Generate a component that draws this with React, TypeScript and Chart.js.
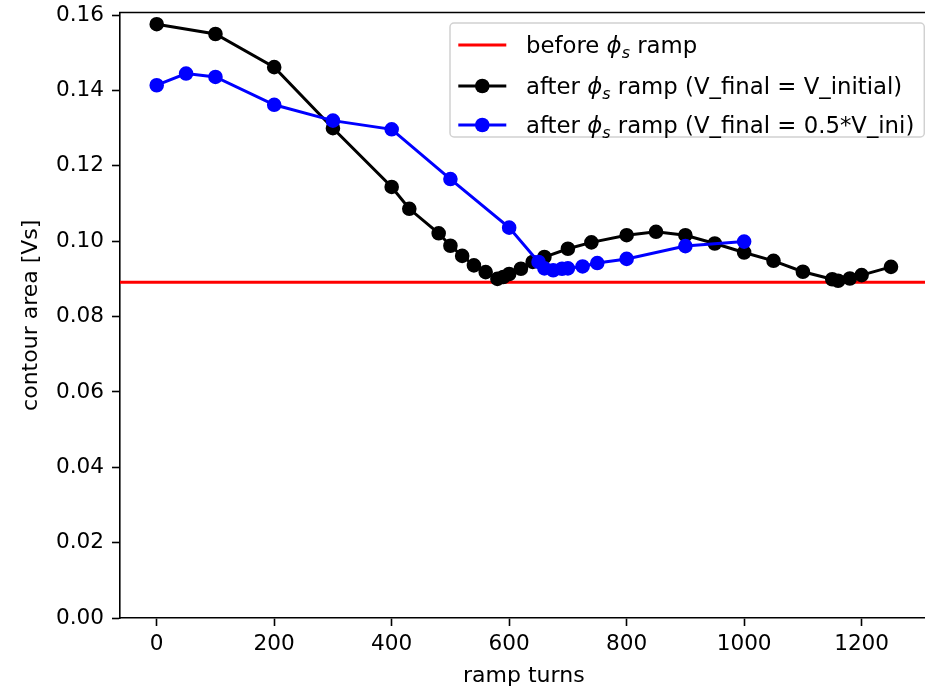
import React, { useEffect, useRef } from "react";
import { Chart, registerables } from "chart.js";

Chart.register(...registerables);

// ---- data ----
const blackX = [0, 100, 200, 300, 400, 430, 480, 500, 520, 540, 560, 580, 590, 600, 620, 640, 660, 700, 740, 800, 850, 900, 950, 1000, 1050, 1100, 1150, 1160, 1180, 1200, 1250];
const blackY = [0.1576, 0.1550, 0.1462, 0.1300, 0.1144, 0.1086, 0.1021, 0.0988, 0.0961, 0.0936, 0.0918, 0.0900, 0.0905, 0.0913, 0.0927, 0.0945, 0.0958, 0.0980, 0.0997, 0.1016, 0.1025, 0.1016, 0.0994, 0.0970, 0.0948, 0.0919, 0.0899, 0.0895, 0.0901, 0.0910, 0.0932];

const blueX = [0, 50, 100, 200, 300, 400, 500, 600, 650, 660, 675, 690, 700, 725, 750, 800, 900, 1000];
const blueY = [0.1414, 0.1445, 0.1436, 0.1362, 0.1320, 0.1297, 0.1165, 0.1036, 0.0945, 0.0928, 0.0923, 0.0927, 0.0928, 0.0933, 0.0942, 0.0953, 0.0987, 0.0999];

const beforeRampValue = 0.0891;

const xTicks = [0, 200, 400, 600, 800, 1000, 1200];
const yTicks = [0, 0.02, 0.04, 0.06, 0.08, 0.1, 0.12, 0.14, 0.16];

const xMin = -62.5;
const xMax = 1312.5;
const yMin = 0;
const yMax = 0.1607;

const legendLabels = [
  [{ t: "before " }, { t: "\u03D5", i: true }, { t: "s", i: true, sub: true }, { t: " ramp" }],
  [{ t: "after " }, { t: "\u03D5", i: true }, { t: "s", i: true, sub: true }, { t: " ramp (V_final = V_initial)" }],
  [{ t: "after " }, { t: "\u03D5", i: true }, { t: "s", i: true, sub: true }, { t: " ramp (V_final = 0.5*V_ini)" }],
];
const legendColors = ["#ff0000", "#000000", "#0000ff"];
const legendMarkers = [false, true, true];

const FONT = "'DejaVu Sans', sans-serif";
const FS = 21.6;
const FS_TITLE = 22;
const FS_LEG = 22.8;

const pts = (xs: number[], ys: number[]) => xs.map((x, i) => ({ x, y: ys[i] }));

const framePlugin = {
  id: "frame",
  afterDraw(chart: any) {
    const { ctx, chartArea } = chart;
    ctx.save();
    // top spine
    ctx.strokeStyle = "#000";
    ctx.lineWidth = 1.6;
    ctx.beginPath();
    ctx.moveTo(chartArea.left - 0.8, chartArea.top);
    ctx.lineTo(chartArea.right + 1, chartArea.top);
    ctx.stroke();

    // legend
    const fontN = `${FS_LEG}px ${FONT}`;
    const fontI = `italic ${FS_LEG}px ${FONT}`;
    const fontS = `italic ${FS_LEG * 0.7}px ${FONT}`;
    const measure = (segs: any[]) => {
      let w = 0;
      for (const s of segs) {
        ctx.font = s.sub ? fontS : s.i ? fontI : fontN;
        w += ctx.measureText(s.t).width;
      }
      return w;
    };
    const left = 450;
    const top = chartArea.top + 10.5;
    const handleL = left + 8.3;
    const handleR = handleL + 48;
    const textL = 526;
    let maxW = 0;
    legendLabels.forEach((l) => (maxW = Math.max(maxW, measure(l))));
    const right = textL + maxW + 10;
    const height = 114;
    const r = 4;
    ctx.fillStyle = "rgba(255,255,255,0.8)";
    ctx.strokeStyle = "rgba(204,204,204,0.9)";
    ctx.lineWidth = 1.5;
    ctx.beginPath();
    ctx.moveTo(left + r, top);
    ctx.lineTo(right - r, top);
    ctx.arcTo(right, top, right, top + r, r);
    ctx.lineTo(right, top + height - r);
    ctx.arcTo(right, top + height, right - r, top + height, r);
    ctx.lineTo(left + r, top + height);
    ctx.arcTo(left, top + height, left, top + height - r, r);
    ctx.lineTo(left, top + r);
    ctx.arcTo(left, top, left + r, top, r);
    ctx.closePath();
    ctx.fill();
    ctx.stroke();

    const rowY = [top + 22, top + 63, top + 102];
    legendLabels.forEach((segs, k) => {
      const y = rowY[k];
      ctx.strokeStyle = legendColors[k];
      ctx.lineWidth = 3;
      ctx.beginPath();
      ctx.moveTo(handleL, y);
      ctx.lineTo(handleR, y);
      ctx.stroke();
      if (legendMarkers[k]) {
        ctx.fillStyle = legendColors[k];
        ctx.beginPath();
        ctx.arc((handleL + handleR) / 2, y, 7.3, 0, Math.PI * 2);
        ctx.fill();
      }
      let x = textL;
      ctx.fillStyle = "#000";
      ctx.textBaseline = "alphabetic";
      ctx.textAlign = "left";
      const base = y + FS_LEG * 0.36;
      for (const s of segs as any[]) {
        ctx.font = s.sub ? fontS : s.i ? fontI : fontN;
        ctx.fillText(s.t, x, s.sub ? base + FS_LEG * 0.2 : base);
        x += ctx.measureText(s.t).width;
      }
    });
    ctx.restore();
  },
};

export default function App() {
  const ref = useRef<HTMLCanvasElement | null>(null);
  useEffect(() => {
    if (!ref.current) return;
    const tickFont = { family: FONT, size: FS };
    const titleFont = { family: FONT, size: FS_TITLE };
    const chart = new Chart(ref.current, {
      type: "line",
      data: {
        datasets: [
          {
            label: "after phi_s ramp (V_final = 0.5*V_ini)",
            data: pts(blueX, blueY),
            borderColor: "#0000ff",
            backgroundColor: "#0000ff",
            pointBackgroundColor: "#0000ff",
            pointBorderColor: "#0000ff",
            borderWidth: 3,
            pointRadius: 6.3,
            pointBorderWidth: 2,
            tension: 0,
          },
          {
            label: "after phi_s ramp (V_final = V_initial)",
            data: pts(blackX, blackY),
            borderColor: "#000000",
            backgroundColor: "#000000",
            pointBackgroundColor: "#000000",
            pointBorderColor: "#000000",
            borderWidth: 3,
            pointRadius: 6.3,
            pointBorderWidth: 2,
            tension: 0,
          },
          {
            label: "before phi_s ramp",
            data: [
              { x: xMin, y: beforeRampValue },
              { x: xMax, y: beforeRampValue },
            ],
            borderColor: "#ff0000",
            backgroundColor: "#ff0000",
            borderWidth: 3,
            pointRadius: 0,
            tension: 0,
          },
        ],
      },
      options: {
        animation: false,
        responsive: false,
        events: [],
        layout: { padding: { top: 12.5, left: 0, right: 0, bottom: 0 } },
        plugins: { legend: { display: false }, tooltip: { enabled: false } },
        scales: {
          x: {
            type: "linear",
            min: xMin,
            max: xMax,
            afterBuildTicks: (s: any) => {
              s.ticks = xTicks.map((v) => ({ value: v }));
            },
            afterFit: (s: any) => {
              s.height = 71;
              s.paddingLeft = 0;
              s.paddingRight = 0;
            },
            ticks: {
              autoSkip: false,
              font: tickFont,
              color: "#000",
              padding: 5,
              maxRotation: 0,
              callback: (v: any) => String(v),
            },
            grid: {
              drawOnChartArea: false,
              drawTicks: true,
              tickLength: 8,
              tickColor: "#000",
              tickWidth: 1.6,
            },
            border: { display: true, color: "#000", width: 1.6 },
            title: {
              display: true,
              text: "ramp turns",
              font: titleFont,
              color: "#000",
              padding: { top: 0, bottom: 0 },
            },
          },
          y: {
            type: "linear",
            min: yMin,
            max: yMax,
            afterBuildTicks: (s: any) => {
              s.ticks = yTicks.map((v) => ({ value: v }));
            },
            afterFit: (s: any) => {
              s.width = 120;
              s.paddingTop = 0;
              s.paddingBottom = 0;
            },
            ticks: {
              autoSkip: false,
              font: tickFont,
              color: "#000",
              padding: 8,
              callback: (v: any) => Number(v).toFixed(2),
            },
            grid: {
              drawOnChartArea: false,
              drawTicks: true,
              tickLength: 8,
              tickColor: "#000",
              tickWidth: 1.6,
            },
            border: { display: true, color: "#000", width: 1.6 },
            title: {
              display: true,
              text: "contour area [Vs]",
              font: titleFont,
              color: "#000",
              padding: { top: 18, bottom: 0 },
            },
          },
        },
      },
      plugins: [framePlugin],
    } as any);
    return () => chart.destroy();
  }, []);

  return (
    <div
      style={{
        position: "absolute",
        left: 0,
        top: 0,
        width: 925,
        height: 689,
        overflow: "hidden",
        background: "#fff",
      }}
    >
      <canvas ref={ref} width={936} height={689} style={{ display: "block", width: 936, height: 689 }} />
    </div>
  );
}
